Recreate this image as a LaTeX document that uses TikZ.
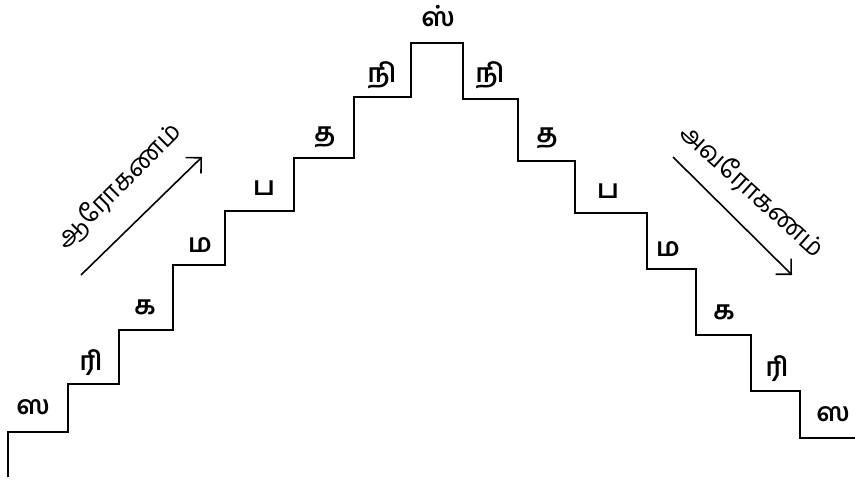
\documentclass[tikz,border=0pt]{standalone}
\usepackage{fontspec}
\newfontfamily\tamilfont[Script=Tamil]{Hind Madurai}
\usetikzlibrary{arrows.meta, positioning}

\begin{document}
\begin{tikzpicture}[x=1pt, y=-1pt,
    svara/.style={font=\tamilfont\fontsize{26}{26}\selectfont\bfseries, inner sep=0pt},
    flow/.style={-{Straight Barb[length=11pt, width=22pt]}, line width=1.6pt},
    flowlabel/.style={font=\tamilfont\fontsize{26}{26}\selectfont, inner sep=0pt}]
    \useasboundingbox (0,0) rectangle (855,490);
    % Staircase
    \draw[line width=2.4pt, line join=miter]
        (8,477) -- (8,432) -- (68,432) -- (68,384) -- (119,384) -- (119,330)
        -- (173,330) -- (173,265) -- (225,265) -- (225,211) -- (294,211)
        -- (294,158) -- (354,158) -- (354,97) -- (411,97) -- (411,43)
        -- (463,43) -- (463,99) -- (518,99) -- (518,161) -- (575,161)
        -- (575,213) -- (647,213) -- (647,269) -- (696,269) -- (696,335)
        -- (751,335) -- (751,391) -- (800,391) -- (800,438) -- (855,438);
    % Ascending svaras
    \node[svara] (saL) at (33,407) {ஸ};
    \node[svara] (riL) at (91,363) {ரி};
    \node[svara] (gaL) at (145,307) {க};
    \node[svara] (maL) at (200,245) {ம};
    \node[svara] (paL) at (264,188) {ப};
    \node[svara] (dhaL) at (325,137) {த};
    \node[svara] (niL) at (382,75) {நி};
    % Top
    \node[svara] (saTop) at (438,16) {ஸ்};
    % Descending svaras
    \node[svara] (niR) at (490,75) {நி};
    \node[svara] (dhaR) at (547,138) {த};
    \node[svara] (paR) at (608,191) {ப};
    \node[svara] (maR) at (668,249) {ம};
    \node[svara] (gaR) at (724,312) {க};
    \node[svara] (riR) at (777,369) {ரி};
    \node[svara] (saR) at (833,414) {ஸ};
    % Arohanam arrow
    \coordinate (aroStart) at (81,275);
    \coordinate (aroEnd) at (202,157);
    \draw[flow] (aroStart) -- (aroEnd);
    \node[flowlabel, rotate=45] (aroLabel) at (119,186) {ஆரோகணம்};
    % Avarohanam arrow
    \coordinate (avaStart) at (673,157);
    \coordinate (avaEnd) at (792,275);
    \draw[flow] (avaStart) -- (avaEnd);
    \node[flowlabel, rotate=-42] (avaLabel) at (752,191) {அவரோகணம்};
\end{tikzpicture}
\end{document}
